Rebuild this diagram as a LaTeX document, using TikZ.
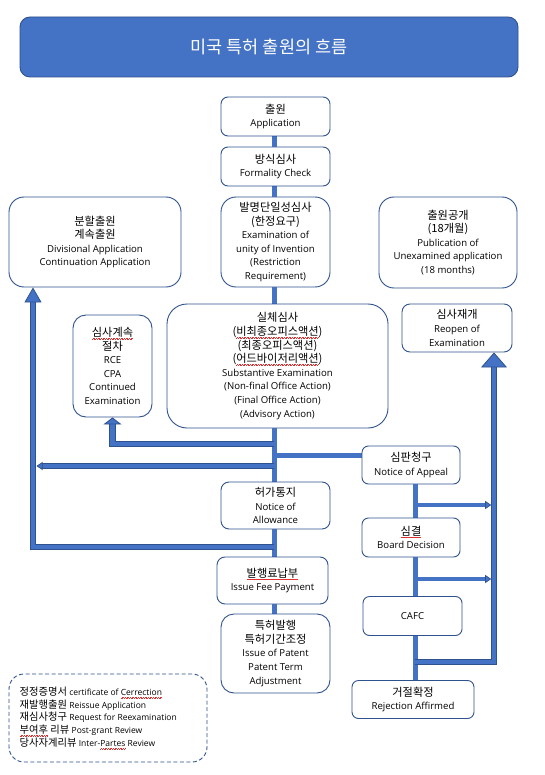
\documentclass[tikz,border=0pt]{standalone}
\usepackage{fontspec}
\setmainfont{Open Sans}
\newfontfamily\krf{Noto Sans CJK KR}
\usetikzlibrary{arrows.meta}
\definecolor{mainblue}{HTML}{4472C4}
\definecolor{darkblue}{HTML}{2F528F}
\definecolor{wavered}{HTML}{E03030}
\newcommand\kr{\krf\fontsize{11.2}{13.6}\selectfont}
\newcommand\lkr{\krf\fontsize{10.3}{12.8}\selectfont}
\newcommand\en{\fontsize{9.6}{13.6}\selectfont}
\newsavebox\rwbox
\newlength\rwlen
\newcommand\rw[1]{\leavevmode\begingroup\sbox\rwbox{#1}\setlength\rwlen{\wd\rwbox}%
  \rlap{\textcolor{wavered}{\hbox to\rwlen{\xleaders\hbox{\rule[-2.6pt]{0.8pt}{0.45pt}\rule[-1.9pt]{0.8pt}{0.45pt}}\hfill}}}%
  \usebox\rwbox\endgroup}
\pgfdeclarelayer{bg}
\pgfsetlayers{bg,main}
\begin{document}
\begin{tikzpicture}[x=1pt,y=-1pt,
  box/.style={draw=darkblue, line width=0.9pt, fill=white, align=center, inner sep=0pt, font=\en},
  trunk/.style={draw=mainblue, line width=5pt},
  blkout/.style={draw=darkblue, line width=6.4pt},
  blkin/.style={draw=mainblue, line width=4.6pt},
  tipbig/.style={-{Triangle[width=#1,length=15pt,line width=0.8pt,color=darkblue,fill=mainblue]}},
  tipsmall/.style={-{Triangle[width=8pt,length=6pt,line width=0.7pt,color=darkblue,fill=mainblue]}},
]
\useasboundingbox (0,0) rectangle (545,775);

% title
\node[draw=darkblue, fill=mainblue, line width=0.9pt, rounded corners=10pt,
  minimum width=498pt, minimum height=60pt, inner sep=0pt, text=white,
  font=\krf\fontsize{17.5}{20}\selectfont] (title) at (269,47) {미국 특허 출원의 흐름};

% boxes
\node[box, minimum width=109pt, minimum height=39pt, rounded corners=7pt] (app) at (275.5,116.5)
  {{\kr 출원}\\Application};
\node[box, minimum width=109pt, minimum height=39pt, rounded corners=7pt] (form) at (275.5,166.5)
  {{\kr 방식심사}\\Formality Check};
\node[box, minimum width=109pt, minimum height=90pt, rounded corners=15pt] (unity) at (275.5,242)
  {{\kr 발명단일성심사}\\{\kr (한정요구)}\\Examination of\\unity of Invention\\(Restriction\\Requirement)};
\node[box, minimum width=172pt, minimum height=90pt, rounded corners=15pt] (div) at (95,242)
  {{\kr 분할출원}\\{\kr 계속출원}\\Divisional Application\\Continuation Application};
\node[box, minimum width=138pt, minimum height=91pt, rounded corners=15pt] (pub) at (448,242.5)
  {{\kr 출원공개}\\{\kr (18개월)}\\Publication of\\Unexamined application\\(18 months)};
\node[box, minimum width=79pt, minimum height=102pt, rounded corners=13pt] (rce) at (112.5,366)
  {{\kr \rw{심사계속}}\\{\kr 절차}\\RCE\\CPA\\Continued\\Examination};
\node[box, minimum width=221pt, minimum height=124pt, rounded corners=20pt] (sub) at (277.5,366)
  {{\kr 실체심사}\\{\kr (\rw{비최종오피스액션})}\\{\kr (최종오피스액션)}\\{\kr (\rw{어드바이저리액션})}\\Substantive Examination\\(Non-final Office Action)\\(Final Office Action)\\(Advisory Action)};
\node[box, minimum width=110pt, minimum height=48pt, rounded corners=8pt] (reopen) at (457,328)
  {{\kr 심사재개}\\Reopen of\\Examination};
\node[box, minimum width=98pt, minimum height=38pt, rounded corners=6.5pt] (appeal) at (411,465)
  {{\kr 심판청구}\\Notice of Appeal};
\node[box, minimum width=109pt, minimum height=47pt, rounded corners=8pt] (allow) at (275.5,505.5)
  {{\kr 허가통지}\\Notice of\\Allowance};
\node[box, minimum width=111pt, minimum height=47pt, rounded corners=8pt] (fee) at (272.5,580.5)
  {{\kr \rw{발행료납부}}\\Issue Fee Payment};
\node[box, minimum width=109pt, minimum height=79pt, rounded corners=13pt] (patent) at (275.5,653.5)
  {{\kr 특허발행}\\{\kr 특허기간조정}\\Issue of Patent\\Patent Term\\Adjustment};
\node[box, minimum width=98pt, minimum height=39pt, rounded corners=6.5pt] (board) at (411,537.5)
  {{\kr \rw{심결}}\\Board Decision};
\node[box, minimum width=99pt, minimum height=39pt, rounded corners=6.5pt] (cafc) at (412.5,616)
  {CAFC};
\node[box, minimum width=122pt, minimum height=38pt, rounded corners=6.5pt] (rej) at (413,699.5)
  {{\kr 거절확정}\\Rejection Affirmed};

% legend
\node[draw=darkblue, dash pattern=on 4pt off 2.5pt, line width=0.9pt, fill=white,
  rounded corners=15pt, minimum width=198pt, minimum height=88pt, inner sep=0pt] (legend) at (108,718) {};
\node[anchor=west, align=left, inner sep=0pt, font=\fontsize{8.5}{12.8}\selectfont] (legtext) at ([xshift=11pt]legend.west)
  {{\lkr 정정증명서} certificate of \rw{Cerrection}\\
   {\lkr 재발행출원} Reissue Application\\
   {\lkr 재심사청구} Request for Reexamination\\
   {\lkr \rw{부여후} 리뷰} Post-grant Review\\
   {\lkr 당사자계리뷰} Inter-\rw{Partes} Review};

% reference coordinates
\coordinate (T) at (274,0);
\coordinate (R) at (415,0);
\coordinate (Lx) at (33,0);
\coordinate (Rx) at (494,0);
\coordinate (yR) at (0,444);
\coordinate (yA) at (0,455);
\coordinate (yL) at (0,466);
\coordinate (yB) at (0,547);
\coordinate (yr1) at (0,505);
\coordinate (yr2) at (0,579);
\coordinate (yRB) at (0,662);

\begin{pgfonlayer}{bg}
\fill[white] (0,0) rectangle (545,775);
% main trunk
\draw[trunk] (T |- app.south) -- (T |- form.north);
\draw[trunk] (T |- form.south) -- (T |- unity.north);
\draw[trunk] (T |- unity.south) -- (T |- sub.north);
\draw[trunk] (T |- sub.south) -- (T |- allow.north);
\draw[trunk] (T |- allow.south) -- (T |- fee.north);
\draw[trunk] (T |- fee.south) -- (T |- patent.north);
\draw[trunk] (T |- yA) -- (appeal.west |- yA);
% right column
\draw[trunk] (R |- appeal.south) -- (R |- board.north);
\draw[trunk] (R |- board.south) -- (R |- cafc.north);
\draw[trunk] (R |- cafc.south) -- (R |- rej.north);

% block arrow to RCE
\draw[blkout, line width=6.2pt, shorten >=6pt] (T |- yR) -| (rce.south);
\draw[blkin, line width=4.4pt, -{Triangle[width=18pt,length=7pt,line width=0.8pt,color=darkblue,fill=mainblue]}] (T |- yR) -| (rce.south);
% block arrow to the left
\draw[blkout, line width=5.4pt, shorten >=5pt] (T |- yL) -- ([xshift=3.5pt]Lx |- yL);
\draw[blkin, line width=3.7pt, tipsmall] (T |- yL) -- ([xshift=3.5pt]Lx |- yL);
% left loop up to divisional application
\draw[blkout, shorten >=14pt] (T |- yB) -- (Lx |- yB) -- (Lx |- div.south);
\draw[blkin, tipbig=17pt] (T |- yB) -- (Lx |- yB) -- (Lx |- div.south);
% right arrows
\draw[blkout, line width=4.8pt, shorten >=5pt] (R |- yr1) -- ([xshift=-2.8pt]Rx |- yr1);
\draw[blkin, line width=3.2pt, tipsmall] (R |- yr1) -- ([xshift=-2.8pt]Rx |- yr1);
\draw[blkout, line width=4.8pt, shorten >=5pt] (R |- yr2) -- ([xshift=-2.8pt]Rx |- yr2);
\draw[blkin, line width=3.2pt, tipsmall] (R |- yr2) -- ([xshift=-2.8pt]Rx |- yr2);
% right loop up to reopen
\draw[blkout, shorten >=14pt] (R |- yRB) -- (Rx |- yRB) -- (Rx |- reopen.south);
\draw[blkin, tipbig=26pt] (R |- yRB) -- (Rx |- yRB) -- (Rx |- reopen.south);
\end{pgfonlayer}
\end{tikzpicture}
\end{document}
